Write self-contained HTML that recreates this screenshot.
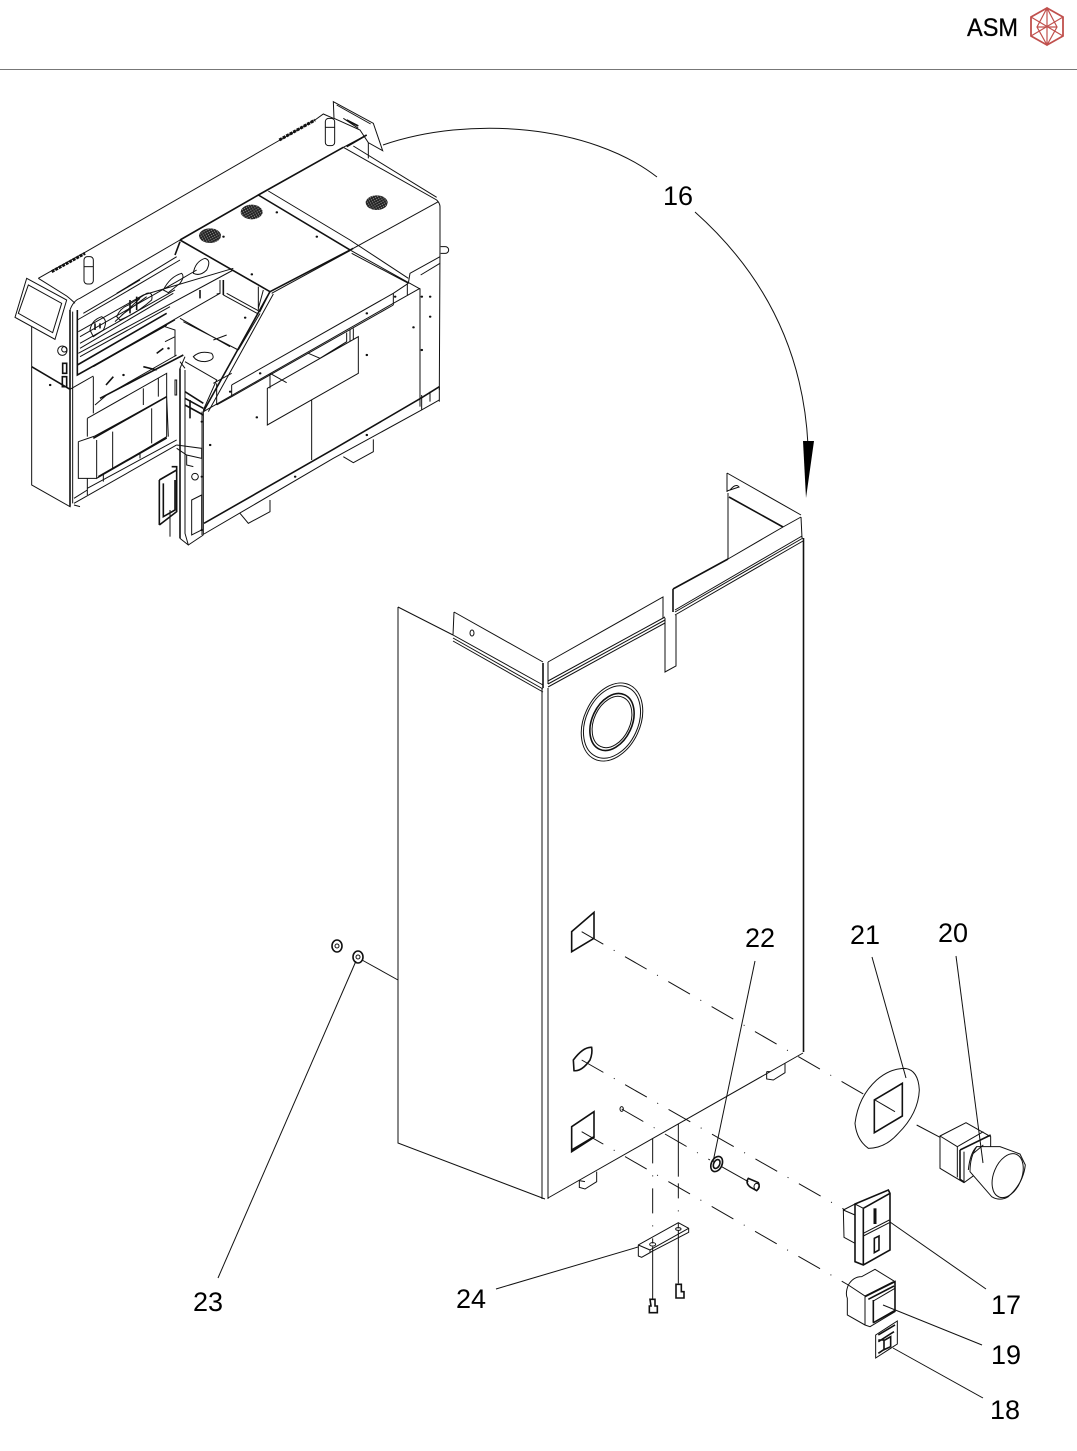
<!DOCTYPE html>
<html><head><meta charset="utf-8"><style>
html,body{margin:0;padding:0;background:#fff}
svg{display:block}
.l,.l *{fill:none;stroke:#111;stroke-width:1;vector-effect:non-scaling-stroke}
.l .w,.w{fill:#fff}
.l .t{stroke-width:1.6}
.l .d{stroke-width:2.2;stroke-linecap:round}
text{font-family:"Liberation Sans",sans-serif;font-size:27px;fill:#000;text-anchor:middle}
</style></head><body>
<svg width="1077" height="1451" viewBox="0 0 1077 1451" xmlns="http://www.w3.org/2000/svg">
<defs>
<pattern id="v" width="7" height="7" patternUnits="userSpaceOnUse" patternTransform="rotate(-30)">
<rect width="7" height="7" fill="#222"/><rect x="1" y="1" width="3" height="3" fill="#aaa"/>
</pattern>
</defs>
<rect width="1077" height="1451" fill="#fff"/>
<!-- header -->
<line x1="0" y1="69.5" x2="1077" y2="69.5" stroke="#777" stroke-width="1"/>
<text x="992.5" y="36" textLength="51" lengthAdjust="spacingAndGlyphs" style="font-size:25px" stroke="#111" stroke-width=".3">ASM</text>
<g fill="none" stroke="#c0504d" stroke-width="1.2">
<path d="M1047,8 L1063,17 L1063,36 L1047,45 L1031,36 L1031,17Z" stroke-width="1.8"/>
<path d="M1047,8 L1037,27 L1047,45 L1057,27Z M1031,17 L1063,36 M1063,17 L1031,36 M1037,27 H1057 M1047,8V45"/>
</g>

<!-- machine, zoom coords -->
<g transform="translate(0,90) scale(.33333)" class="l">
<path d="M115,565 L150,545 L250,490 L840,150 L945,90 L970,72 L1000,85"/>
<path style="stroke-width:3" stroke-dasharray="3 1" d="M155,545 L255,490 M838,150 L945,90"/>
<path d="M115,565 L200,618 Q215,630 225,640"/>
<rect x="252" y="500" width="28" height="82" rx="10"/><path d="M252,530 H280"/>
<rect x="976" y="85" width="28" height="82" rx="10"/><path d="M976,112 H1004"/>
<path d="M1000,35 L1120,100 L1148,182 L1105,158 L1080,120 L1002,85Z"/>
<path d="M1010,45 L1112,102 M1030,85 L1075,115 M1105,158 L1105,205"/>
<path class="t" d="M1040,90 L1075,108 M1040,170 L1100,135"/>
<path d="M80,565 L200,630 L165,748 L45,682Z M85,585 L185,640 L158,728 L55,670Z"/>
<path d="M210,660 Q220,632 240,625 L540,450 M1030,172 L1100,135"/>
<path class="t" d="M540,450 L775,315 L1030,172"/>
<path d="M1030,172 L1310,330 Q1320,340 1320,350 L1320,470 L1318,900"/>
<path d="M1060,168 L1310,322"/>
<path d="M805,303 L1050,450 L1225,565"/>
<path class="t" d="M775,315 L1050,480 M540,450 L810,605"/>
<path d="M1050,480 L1260,597 M1055,490 L1225,580"/>
<path d="M1315,335 L1060,475"/>
<path class="t" d="M1060,475 L810,605"/>
<path d="M1050,482 L815,610"/>
<path class="t" d="M810,605 L610,965"/>
<path d="M820,612 L625,965 M775,590 L775,660 M790,600 L775,655"/>
<ellipse cx="630" cy="437" rx="33" ry="22" style="fill:url(#v);stroke:none"/>
<ellipse cx="755" cy="366" rx="33" ry="22" style="fill:url(#v);stroke:none"/>
<ellipse cx="1130" cy="338" rx="33" ry="22" style="fill:url(#v);stroke:none"/>
<!-- right side panel -->
<path d="M610,965 L1180,640 L1260,595"/>
<path d="M650,945 L695,920 L1180,645 M695,885 L1180,610 L1225,580 M695,885 V920 M1180,610 V645 M1222,580 V615 M1260,595 V950 M1320,500 L1230,550 L1225,580 M1320,520 L1262,555 M1322,470 h14 a6,6 0 0 1 0,20 h-14"/>
<path class="t" d="M612,1300 L1000,1078 L1262,925 L1318,890"/>
<path d="M612,1332 L1000,1105 L1265,960 L1318,930 M610,965 V1335 M606,965 V1335"/>
<path d="M1265,915 V960 M1290,905 V935 M1318,890 V935"/>
<path d="M802,895 L1075,740 V850 L802,1005Z M935,930 V1110 M810,850 V895 M810,850 L860,878 M925,790 L960,805 L1040,755 V728 M1050,720 V755 M1060,715 V750"/>
<path d="M720,1270 L745,1300 L810,1265 V1230 M1030,1100 L1060,1118 L1120,1085 V1048"/>
<!-- left column -->
<path d="M95,710 V1185 L210,1250 V665 M218,665 V1240 M210,898 L280,858"/>
<path class="t" d="M95,830 L210,898 M210,660 V1250"/>
<rect x="188" y="820" width="12" height="30" class="t"/><rect x="187" y="860" width="13" height="30" class="t"/>
<circle cx="187" cy="782" r="14"/><circle cx="193" cy="778" r="8"/>
<!-- recess -->
<path class="t" d="M232,660 V855 L500,705 M232,825 L500,670"/>
<path d="M232,690 L345,625 L540,510 M235,725 L430,615 L700,535 M235,790 L700,540 M240,740 L530,575 L590,540 M240,775 L520,610 M232,855 L660,610 M240,760 L525,600 M240,800 L510,650 M350,610 L530,500 M250,670 L420,570"/>
<path d="M350,680 Q360,655 385,645 L440,610 Q460,605 455,630 Q410,670 360,690Z M490,600 Q510,560 545,550 Q555,560 540,580 L505,608Z M580,550 Q585,515 615,505 Q635,510 620,540 Q600,560 580,550Z M270,720 Q275,690 305,680 Q325,690 310,720 L280,740Z M345,695 L420,625 M365,675 L440,620"/>
<path class="t" d="M285,700 V720 M300,700 V715 M390,630 V670 M410,620 V660 M525,495 L540,455 M600,600 V625 M670,570 V615"/>
<path d="M660,570 V610 L650,612 M680,610 L780,665 L810,605 M670,615 L775,672 M540,685 L690,770 M550,695 L715,780 M715,780 L780,670 M640,750 L680,735 M580,800 Q600,780 635,790 Q650,810 615,815 Q590,815 580,800Z M495,710 L525,720 V740 L495,755 M280,860 V970 M280,830 L525,690 M525,740 V800"/>
<path class="t" d="M430,830 L470,840 M300,925 L550,795 M470,790 L490,775 M318,885 L340,860"/>
<path d="M285,945 L320,915 L530,795 M262,985 V1040 M262,985 L500,850 V1040 L290,1165 V1050 M235,1055 L285,1038 L500,920 L505,1040 M235,1055 V1165 H290 L500,1045 M338,1025 V1135 M455,955 V1060 M430,895 V945 M475,865 V920"/>
<path class="t" d="M280,1045 L500,920 M295,1160 L500,1043"/>
<path d="M222,1240 L530,1065 M262,1195 L530,1050 M222,1225 L262,1200"/>
<path d="M262,1165 V1215 M222,1245 L240,1250 M310,1150 V1175 M420,1090 V1105"/>
<!-- central post -->
<path class="t" d="M540,835 V1345"/>
<path d="M555,835 L540,815 M540,835 L555,800 M555,815 L650,870 L610,960 M555,840 V1330 L565,1365 L610,1335 M540,1345 L565,1365 M525,870 V915 H530 V870Z M640,880 L695,850 M650,945 V880"/>
<path class="t" d="M555,905 L610,940 M555,925 L610,955 M555,945 L610,975 M570,930 V985"/>
<path d="M530,1065 L605,1075 V1105 L560,1095 L530,1075 M560,1095 V1125 L580,1130 M575,1160 a10,10 0 1 0 20,0 a10,10 0 1 0 -20,0 M575,1230 L605,1215 V1320 L575,1335Z"/>
<path class="t" d="M478,1305 L530,1265 V1130 L515,1130 M478,1170 L530,1140 M478,1170 V1305 M490,1180 V1280 L525,1260 V1170"/>
<path d="M510,1340 V1260"/>
<path class="d" d="M735,683h1M755,553h1M830,367h1M950,440h1M670,440h1M1100,670h1M1240,712h1M1100,795h1M630,1065h1M770,982h1M1100,1035h1M885,1160h1M1265,620h1M1290,620h1M1290,680h1M1265,780h1M1185,620h1M780,850h1M690,905h1M150,885h1M370,855h1M505,775h1M605,1320h1M605,1160h1M605,995h1"/>
</g>

<!-- cabinet, real coords -->
<g class="l">
<path d="M398,607 V1143 L545,1199 M398,607 L453,635"/>
<path d="M454,612 L543,662 M454,612 L453,635 M453,635 L543,685 M453,638 L543,689 M453,641 L543,692"/>
<ellipse cx="472" cy="633" rx="2" ry="3"/>
<path class="t" d="M543,663 V688"/>
<path d="M548,662 L663,597 V618 M548,681 L665,617 M548,684 L665,620 M548,687 L665,623 M548,662 V684"/>
<path d="M665,618 V672 L676,666 V615"/>
<path class="t" d="M673,589 L728,559 M673,589 V612"/>
<path d="M728,559 L783,527 L801,517 M801,517 L802,538 M727,473 L801,515 M727,473 L727,492 M728,493 V559 M783,527 L801,517"/>
<path class="t" d="M729,497 L783,527"/>
<path d="M727,491 L739,487 L738,486 Q735,484 730,490"/>
<path d="M675,612 L803,538 M675,615 L803,541 M675,610 L802,536"/>
<path class="t" d="M803.5,538 V1052"/>
<path d="M542,688 V1199 M548,688 V1199"/>
<path d="M803,1053 L548,1198"/>
<ellipse cx="612" cy="722" rx="28" ry="41" transform="rotate(25 612 722)"/>
<ellipse cx="612" cy="722" rx="26" ry="38" transform="rotate(25 612 722)"/>
<ellipse cx="612" cy="722" rx="20" ry="30" transform="rotate(25 612 722)" class="t"/>
<ellipse cx="612" cy="722" rx="18" ry="27" transform="rotate(25 612 722)"/>
</g>

<!-- lower parts, zoom3 coords -->
<g transform="translate(540,900) scale(.33333)" class="l">
<path class="t" d="M95,95 L162,37 V115 L95,155Z"/>
<path class="t" d="M95,680 L162,635 V712 L95,755Z M95,750 L162,710"/>
<path class="t" d="M155,442 Q130,440 100,480 L102,512 Q125,515 150,480 Q158,460 155,442Z"/>
<ellipse cx="245" cy="627" rx="5" ry="7"/>
<path stroke-dasharray="25 12 1 12" d="M125,95 L975,585"/>
<path stroke-dasharray="25 12 1 12" d="M125,480 L915,930"/>
<path stroke-dasharray="25 12 1 12" d="M125,695 L925,1155"/>
<path d="M1005,600 L1065,635 M1130,675 L1200,712"/>
<path stroke-dasharray="25 12 1 12" d="M245,627 L510,780"/>
<path d="M545,800 L625,845"/>
<path stroke-dasharray="25 12 1 12" d="M338,715 V1030"/>
<path d="M415,672 V830"/>
<path stroke-dasharray="15 12 1 12" d="M415,850 V985"/>
<path d="M338,1040 V1200 M415,990 V1150"/>
<path d="M680,515 V537 L700,540 L735,518 V490 M680,515 L690,515 M118,840 V862 L135,867 L170,845 V815 M118,842 L135,845"/>
<!-- gasket 21 -->
<path d="M1095,505 Q1135,510 1138,570 Q1135,640 1075,700 Q1035,745 985,745 Q950,720 945,670 Q955,590 1010,540 Q1050,505 1095,505Z"/>
<path class="t" d="M1003,600 L1087,550 V648 L1003,698Z"/>
<!-- button 20 -->
<path d="M1200,708 L1278,668 L1352,710 V790 L1272,848 L1250,835 L1200,805Z M1200,708 L1252,740 L1330,695 M1252,740 V832"/>
<path class="t" d="M1260,750 L1352,705 M1260,750 V838 L1272,846"/>
<path d="M1272,755 V848"/>
<path class="w" d="M1310,740 Q1290,770 1290,815 L1355,890 Q1380,905 1405,890 Q1450,850 1456,795 L1440,762 L1380,740Z"/>
<ellipse cx="1403" cy="827" rx="42" ry="69" transform="rotate(22 1403 827)"/>
<path d="M1310,740 Q1290,760 1285,810 M1330,735 L1300,760"/>
<!-- switch 17 -->
<path d="M910,930 L945,912 V1030 L912,1012Z M910,930 L945,945"/>
<path class="t" d="M945,912 L1045,870 L1050,880 V1050 L970,1095 L945,1085Z M970,925 V1095 M970,925 L1050,880"/>
<path d="M970,1008 L1048,968 M970,1000 L1048,960 M945,912 L970,925"/>
<path style="stroke-width:3" d="M1005,925 V972"/>
<path class="t" d="M1003,1015 L1017,1008 V1050 L1003,1058Z"/>
<!-- button 19 -->
<path d="M925,1155 Q915,1180 922,1195 V1245 L975,1275 L990,1280 L1065,1235 V1145 L1005,1108 L965,1130 Q940,1130 925,1155Z M925,1155 L975,1188 L1060,1145"/>
<path class="t" d="M975,1190 L1065,1145 V1235 M985,1198 L1062,1158"/>
<path d="M975,1190 V1275 M1000,1203 L1065,1165 M1000,1203 V1268 L1065,1230"/>
<path class="t" d="M1000,1200 V1268 M1000,1268 L1065,1232"/>
<!-- plate 18 -->
<path d="M1007,1305 L1072,1263 V1332 L1007,1374Z"/>
<path class="t" d="M1015,1305 L1065,1275 M1015,1325 L1062,1295 M1015,1320 H1035 L1052,1310 V1340 L1030,1350 L1015,1360 M1032,1322 V1350"/>
<!-- washer 22 -->
<ellipse cx="530" cy="792" rx="16" ry="24" transform="rotate(25 530 792)" class="t"/>
<ellipse cx="530" cy="792" rx="9" ry="14" transform="rotate(25 530 792)" class="t"/>
<!-- screw -->
<path class="t" d="M625,835 L655,848 Q662,860 650,872 L632,862 Q615,850 625,835Z"/>
<ellipse cx="650" cy="860" rx="8" ry="10"/>
<!-- bracket 24 -->
<path d="M295,1035 L415,968 L446,985 V997 L340,1052 L305,1072 L295,1068Z M295,1035 L330,1050 V1058 L305,1072 M330,1050 L446,985"/>
<ellipse cx="338" cy="1033" rx="9" ry="5"/><ellipse cx="415" cy="987" rx="8" ry="4"/>
<!-- bolts -->
<path class="t" d="M330,1198 H345 V1218 H352 V1238 H328 V1218 H333Z M408,1153 H424 V1175 H432 V1194 H408Z"/>
</g>

<!-- washers 23 -->
<g class="l">
<ellipse cx="337" cy="946" rx="5" ry="6" class="t"/><circle cx="337" cy="946" r="2"/>
<ellipse cx="358" cy="957" rx="5" ry="6" class="t"/><circle cx="358" cy="957" r="2"/>
<path d="M362,960 L398,980"/>
<!-- leaders -->
<path d="M383,145 C470,115 590,125 657,177"/>
<path d="M695,212 C760,270 803,345 808,445"/>
<path d="M356,961 L218,1278"/>
<path d="M755,961 L713,1162"/>
<path d="M872,957 L906,1078"/>
<path d="M956,956 L983,1163"/>
<path d="M890,1222 L986,1289"/>
<path d="M883,1305 L982,1345"/>
<path d="M893,1348 L983,1398"/>
<path d="M496,1289 L638,1247"/>
</g>
<polygon points="803,441 814,441 806,498" fill="#000"/>

<text x="678" y="205">16</text>
<text x="760" y="947">22</text>
<text x="865" y="944">21</text>
<text x="953" y="942">20</text>
<text x="208" y="1311">23</text>
<text x="471" y="1308">24</text>
<text x="1006" y="1314">17</text>
<text x="1006" y="1364">19</text>
<text x="1005" y="1419">18</text>
</svg>
</body></html>
